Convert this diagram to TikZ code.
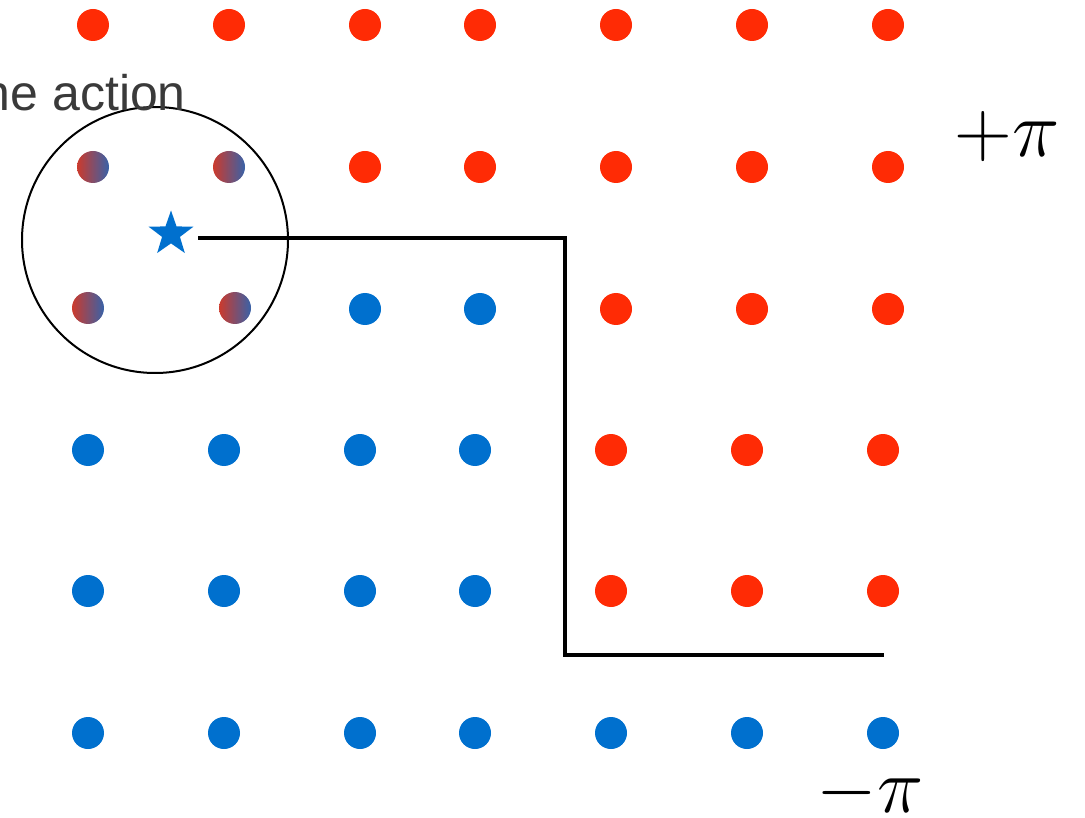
\RequirePackage{fix-cm}
\documentclass[tikz,border=0pt]{standalone}
\usepackage{fontspec}
\setmainfont{Liberation Sans}
\usetikzlibrary{shapes.geometric}
\definecolor{dotred}{HTML}{FF2B05}
\definecolor{dotblue}{HTML}{0070CE}
\definecolor{mixred}{HTML}{CC3A2C}
\definecolor{mixblue}{HTML}{3862A8}
\definecolor{textgray}{HTML}{3A3A3A}

\tikzset{
	dot r/.style={fill=dotred},
	dot b/.style={fill=dotblue},
	dot g/.style={left color=mixred,right color=mixblue},
	dot x/.style={},
}

\begin{document}
\begin{tikzpicture}[x=1pt,y=-1pt]
\useasboundingbox (0,0) rectangle (1085,818);
\clip (0,0) rectangle (1085,818);
% lattice of sites, one row per line: y / shift / colours
\foreach \y/\dx/\cols in {25/5/{r,r,r,r,r,r,r},167/5/{g,g,r,r,r,r,r},309/5/{x,x,b,b,r,r,r},
	450/0/{b,b,b,b,r,r,r},591/0/{b,b,b,b,r,r,r},733/0/{b,b,b,b,b,b,b}}{
	\foreach \c [count=\i] in \cols{
		\pgfmathsetmacro{\x}{{0,88,224,360,475,611,747,883}[\i]+\dx}
		\path[dot \c] (\x,\y) circle (16);
		}
	}
\foreach \x in {88,235}
	\path[dot g] (\x,308) circle (16);
\node[star,star points=5,star point ratio=2.5,minimum size=47,inner sep=0,fill=dotblue] (site) at (171,234) {};
\draw[line width=2pt] (155,240) circle (133);
\node[anchor=base east,inner sep=0,textgray,font=\fontsize{50}{50}\selectfont] (act) at (186,111) {the action};
\node[inner sep=0,font=\fontsize{80}{80}\selectfont] (ppi) at (1007,137) {$+\pi$};
\node[inner sep=0,font=\fontsize{78}{78}\selectfont] (mpi) at (870,793) {$-\pi$};
% string from the site
\coordinate (w0) at (198,238);
\coordinate (w1) at (565,238);
\coordinate (w2) at (565,655);
\coordinate (w3) at (884,655);
\draw[line width=4.5pt] (w0) -- (w1) -- (w2) -- (w3);
\end{tikzpicture}
\end{document}
